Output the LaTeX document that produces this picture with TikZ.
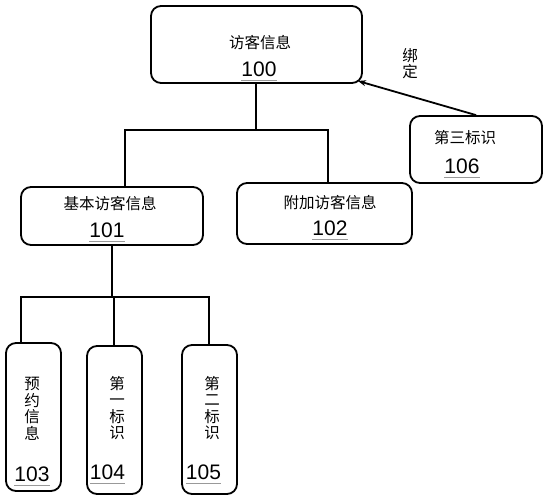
\documentclass[tikz,border=0pt]{standalone}
\usepackage{fontspec}
\setmainfont{Liberation Sans}
\newfontfamily\cjk{Noto Sans CJK SC}
\usetikzlibrary{arrows.meta}
\begin{document}
\begin{tikzpicture}[x=1pt,y=-1pt,
  box/.style={draw=black,line width=1.8pt,rounded corners=10pt,inner sep=0pt,anchor=center},
  cn/.style={font=\cjk\fontsize{15.5}{16.5}\selectfont,inner sep=0pt,align=center},
  num/.style={font=\fontsize{21}{21}\selectfont,inner sep=0pt},
  ul/.style={draw=gray!80,line width=1.2pt},
  conn/.style={draw=black,line width=1.8pt},
  arr/.style={draw=black,line width=1.8pt,-{Stealth[length=8pt,width=6pt]}}]
\useasboundingbox (0,0) rectangle (548,500);
% boxes
\node[box,minimum width=211pt,minimum height=77pt] (b100) at (256.5,44.5) {};
\node[box,minimum width=132pt,minimum height=67pt] (b106) at (476,149.5) {};
\node[box,minimum width=182pt,minimum height=58pt] (b101) at (112,216) {};
\node[box,minimum width=175pt,minimum height=61pt] (b102) at (324.5,213.5) {};
\node[box,minimum width=55pt,minimum height=148pt] (b103) at (33.5,417) {};
\node[box,minimum width=55pt,minimum height=148pt] (b104) at (114.5,420) {};
\node[box,minimum width=55pt,minimum height=149pt] (b105) at (209.5,419.5) {};
% texts
\node[cn] (t100) at (260,43) {访客信息};
\node[num] (n100) at (259,69) {100};
\node[cn] (t106) at (465,138) {第三标识};
\node[num] (n106) at (462,166) {106};
\node[cn] (t101) at (110,204) {基本访客信息};
\node[num] (n101) at (107,230) {101};
\node[cn] (t102) at (330,203) {附加访客信息};
\node[num] (n102) at (330,228) {102};
\node[cn] (t103) at (32,409) {预\\约\\信\\息};
\node[num] (n103) at (32,474) {103};
\node[cn] (t104) at (117,408) {第\\一\\标\\识};
\node[num] (n104) at (107.5,472) {104};
\node[cn] (t105) at (212,408) {第\\二\\标\\识};
\node[num] (n105) at (203.5,472) {105};
\node[cn] (bind) at (410,63.5) {绑\\定};
% underlines
\foreach \n in {n100,n106,n101,n102,n103,n104,n105}
  \draw[ul] ([yshift=-4pt]\n.base west) -- ([yshift=-4pt]\n.base east);
% connectors
\coordinate (c0) at (256,130);
\coordinate (j1) at (125,130);
\coordinate (j2) at (328,130);
\draw[conn] (b100.south -| c0) -- (c0);
\draw[conn] (j1 |- b101.north) -- (j1) -- (j2) -- (j2 |- b102.north);
\coordinate (k1) at (21,297);
\coordinate (k2) at (209,297);
\coordinate (k3) at (114,297);
\draw[conn] (b101.south) -- (b101.south |- k1);
\draw[conn] (k1 |- b103.north) -- (k1) -- (k2) -- (k2 |- b105.north);
\draw[conn] (k3) -- (k3 |- b104.north);
\coordinate (tip) at (358,81);
\draw[arr] (b106.north) -- (tip);
\end{tikzpicture}
\end{document}
